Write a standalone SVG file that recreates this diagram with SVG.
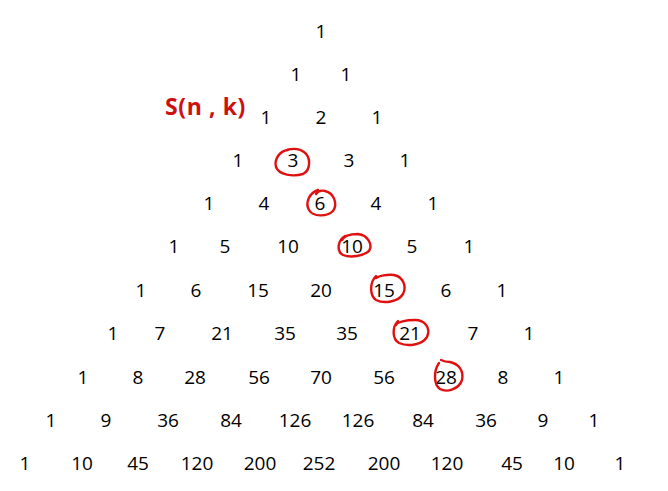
<svg xmlns="http://www.w3.org/2000/svg" width="668" height="491" viewBox="0 0 668 491">
<style>
.n{font-family:"Open Sans","Liberation Sans",sans-serif;font-size:19px;fill:#000;text-anchor:middle}
.lbl{font-family:"Open Sans","Liberation Sans",sans-serif;font-size:23px;font-weight:bold;fill:#cc1111;letter-spacing:0.6px}
.c{fill:none;stroke:#e01010;stroke-width:2.4;stroke-linecap:round}
</style>
<rect width="668" height="491" fill="#fff"/>
<g id="row0"><text class="n" x="321" y="38">1</text></g>
<g id="row1"><text class="n" x="296" y="81">1</text><text class="n" x="346" y="81">1</text></g>
<g id="row2"><text class="n" x="266" y="124">1</text><text class="n" x="321" y="124">2</text><text class="n" x="377" y="124">1</text></g>
<g id="row3"><text class="n" x="238" y="167">1</text><text class="n" x="293" y="167">3</text><text class="n" x="349" y="167">3</text><text class="n" x="405" y="167">1</text></g>
<g id="row4"><text class="n" x="209" y="210">1</text><text class="n" x="264" y="210">4</text><text class="n" x="320" y="210">6</text><text class="n" x="376" y="210">4</text><text class="n" x="433" y="210">1</text></g>
<g id="row5"><text class="n" x="174" y="253">1</text><text class="n" x="225" y="253">5</text><text class="n" x="288" y="253">10</text><text class="n" x="352" y="253">10</text><text class="n" x="412" y="253">5</text><text class="n" x="469" y="253">1</text></g>
<g id="row6"><text class="n" x="141" y="297">1</text><text class="n" x="196" y="297">6</text><text class="n" x="258" y="297">15</text><text class="n" x="321" y="297">20</text><text class="n" x="384" y="297">15</text><text class="n" x="446" y="297">6</text><text class="n" x="502" y="297">1</text></g>
<g id="row7"><text class="n" x="113" y="340">1</text><text class="n" x="160" y="340">7</text><text class="n" x="222" y="340">21</text><text class="n" x="285" y="340">35</text><text class="n" x="347" y="340">35</text><text class="n" x="410" y="340">21</text><text class="n" x="473" y="340">7</text><text class="n" x="529" y="340">1</text></g>
<g id="row8"><text class="n" x="83" y="384">1</text><text class="n" x="138" y="384">8</text><text class="n" x="195" y="384">28</text><text class="n" x="259" y="384">56</text><text class="n" x="321" y="384">70</text><text class="n" x="384" y="384">56</text><text class="n" x="446" y="384">28</text><text class="n" x="503" y="384">8</text><text class="n" x="559" y="384">1</text></g>
<g id="row9"><text class="n" x="51" y="427">1</text><text class="n" x="106" y="427">9</text><text class="n" x="168" y="427">36</text><text class="n" x="231" y="427">84</text><text class="n" x="295" y="427">126</text><text class="n" x="358" y="427">126</text><text class="n" x="423" y="427">84</text><text class="n" x="486" y="427">36</text><text class="n" x="543" y="427">9</text><text class="n" x="594" y="427">1</text></g>
<g id="row10"><text class="n" x="25" y="470">1</text><text class="n" x="82" y="470">10</text><text class="n" x="138" y="470">45</text><text class="n" x="197" y="470">120</text><text class="n" x="260" y="470">200</text><text class="n" x="319" y="470">252</text><text class="n" x="384" y="470">200</text><text class="n" x="447" y="470">120</text><text class="n" x="512" y="470">45</text><text class="n" x="564" y="470">10</text><text class="n" x="620" y="470">1</text></g>
<g id="label"><text class="lbl" x="165" y="115">S(n , k)</text></g>
<g id="circles">
<path class="c" d="M288 150 C279 151 274 160 276 167 C279 175 293 177 303 174 C311 170 311 157 304 152 C299 148 290 148 284 151"/>
<path class="c" d="M318 190 C309 193 305 203 309 210 C313 217 327 217 333 211 C338 204 334 193 325 191 C321 190 318 191 316 194"/>
<path class="c" d="M345 236 C338 240 336 251 343 255 C351 258 363 256 369 251 C373 245 368 235 358 234 C351 234 344 236 342 240"/>
<path class="c" d="M376 276 C369 283 370 296 376 300 C384 304 398 302 403 294 C407 286 403 277 394 275 C387 274 379 276 376 278"/>
<path class="c" d="M398 321 C392 327 392 339 399 343 C408 347 422 345 427 337 C431 328 425 320 415 320 C406 320 397 322 396 325"/>
<path class="c" d="M439 363 C434 370 433 384 440 389 C447 393 459 389 462 380 C464 371 459 364 450 362 C446 362 443 361 441 360"/>
</g>
</svg>
